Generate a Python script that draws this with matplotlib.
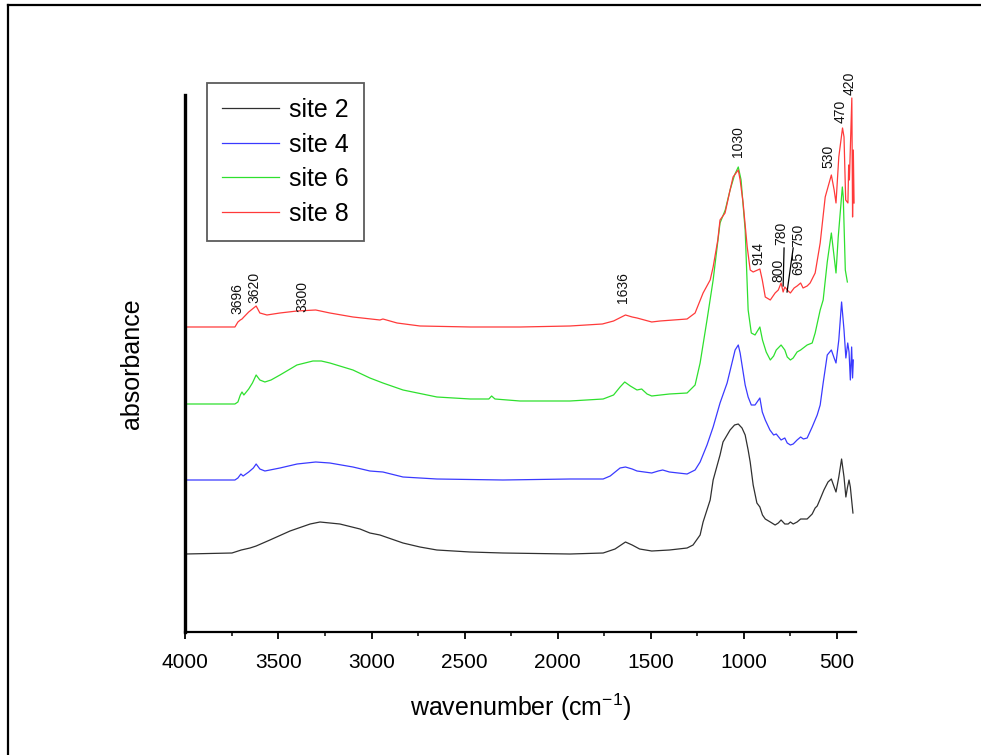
import matplotlib
matplotlib.use("Agg")
import matplotlib.pyplot as plt
from matplotlib.lines import Line2D
from matplotlib.ticker import MultipleLocator

plt.rcParams['font.family'] = ['Liberation Sans', 'DejaVu Sans']

# ---- spectra (wavenumber in cm-1, stacked absorbance in a.u.) ----
wn_site2 = [4000, 3750, 3700, 3653, 3620, 3546, 3438, 3330, 3277, 3170, 3062, 3009, 2955, 2831,
            2740, 2649, 2470, 2294, 1934, 1756, 1692, 1636, 1600, 1560, 1495, 1400, 1305, 1273,
            1235, 1219, 1181, 1165, 1128, 1112, 1074, 1050, 1030, 1010, 993, 977, 966, 950, 930,
            914, 900, 885, 858, 832, 815, 800, 780, 762, 750, 735, 714, 695, 660, 633, 617, 606,
            590, 570, 548, 530, 515, 505, 490, 475, 462, 452, 443, 435, 428, 420, 414]
ab_site2 = [0.78, 0.79, 0.82, 0.84, 0.86, 0.92, 1.01, 1.08, 1.10, 1.08, 1.03, 0.99, 0.97, 0.89,
            0.85, 0.82, 0.80, 0.79, 0.78, 0.79, 0.83, 0.90, 0.87, 0.83, 0.81, 0.82, 0.84, 0.87,
            0.97, 1.10, 1.32, 1.52, 1.77, 1.90, 2.02, 2.07, 2.08, 2.04, 1.97, 1.82, 1.70, 1.47, 1.29,
            1.25, 1.17, 1.13, 1.10, 1.07, 1.09, 1.12, 1.08, 1.08, 1.10, 1.08, 1.10, 1.13, 1.13, 1.18,
            1.24, 1.26, 1.33, 1.42, 1.50, 1.53, 1.45, 1.40, 1.55, 1.73, 1.55, 1.35, 1.45, 1.52, 1.45,
            1.30, 1.19]

wn_site4 = [4000, 3734, 3718, 3702, 3690, 3660, 3635, 3620, 3600, 3573, 3492, 3400, 3300, 3224,
            3100, 3009, 2939, 2831, 2649, 2294, 1934, 1756, 1718, 1665, 1636, 1600, 1574, 1495,
            1460, 1436, 1400, 1305, 1262, 1235, 1198, 1165, 1128, 1090, 1060, 1047, 1030, 1020,
            1004, 993, 977, 960, 940, 914, 901, 885, 860, 840, 826, 800, 780, 767, 750, 735, 714,
            695, 680, 660, 633, 606, 590, 574, 552, 530, 515, 505, 490, 475, 462, 452, 442, 435,
            428, 421, 416, 412]
ab_site4 = [1.52, 1.52, 1.54, 1.58, 1.56, 1.60, 1.64, 1.68, 1.63, 1.61, 1.64, 1.68, 1.70, 1.69,
            1.65, 1.61, 1.60, 1.55, 1.53, 1.52, 1.53, 1.53, 1.56, 1.64, 1.65, 1.63, 1.61, 1.59,
            1.61, 1.62, 1.60, 1.58, 1.62, 1.70, 1.87, 2.05, 2.29, 2.49, 2.72, 2.82, 2.87, 2.79,
            2.60, 2.47, 2.35, 2.27, 2.27, 2.34, 2.20, 2.12, 2.02, 1.97, 1.98, 1.92, 1.94, 1.89,
            1.87, 1.88, 1.92, 1.95, 1.93, 1.94, 2.05, 2.17, 2.27, 2.49, 2.77, 2.82, 2.74, 2.69,
            2.92, 3.30, 3.02, 2.74, 2.89, 2.80, 2.52, 2.85, 2.54, 2.72]

wn_site6 = [4000, 3734, 3718, 3705, 3696, 3686, 3660, 3640, 3620, 3600, 3573, 3540, 3492, 3401,
            3315, 3270, 3224, 3100, 3009, 2939, 2831, 2649, 2470, 2370, 2355, 2337, 2203, 1934,
            1756, 1700, 1665, 1640, 1610, 1574, 1549, 1520, 1495, 1400, 1305, 1262, 1235, 1198,
            1165, 1128, 1100, 1074, 1050, 1030, 1015, 993, 977, 960, 940, 914, 900, 880, 858,
            840, 826, 800, 780, 767, 750, 735, 714, 695, 660, 633, 617, 590, 574, 552, 530, 515,
            505, 493, 471, 466, 455, 444]
ab_site6 = [2.28, 2.28, 2.30, 2.37, 2.40, 2.37, 2.43, 2.49, 2.57, 2.52, 2.50, 2.52, 2.57, 2.67,
            2.71, 2.71, 2.69, 2.62, 2.54, 2.49, 2.42, 2.35, 2.33, 2.33, 2.36, 2.33, 2.31, 2.31,
            2.33, 2.37, 2.45, 2.50, 2.46, 2.42, 2.43, 2.38, 2.36, 2.38, 2.39, 2.47, 2.69, 3.12,
            3.52, 4.09, 4.22, 4.42, 4.57, 4.65, 4.52, 4.02, 3.22, 2.99, 2.97, 3.05, 2.92, 2.80,
            2.72, 2.76, 2.82, 2.87, 2.82, 2.75, 2.72, 2.74, 2.80, 2.82, 2.87, 2.89, 2.99, 3.22,
            3.32, 3.70, 3.99, 3.75, 3.59, 3.95, 4.45, 4.35, 3.62, 3.50]

wn_site8 = [4000, 3734, 3718, 3705, 3696, 3686, 3660, 3640, 3620, 3600, 3562, 3492, 3400, 3300,
            3224, 3100, 2955, 2939, 2863, 2740, 2470, 2200, 1934, 1760, 1700, 1636, 1600, 1574,
            1495, 1450, 1305, 1262, 1219, 1181, 1165, 1140, 1128, 1101, 1074, 1058, 1030, 1020,
            1004, 982, 966, 950, 914, 901, 885, 858, 832, 815, 800, 789, 780, 762, 750, 730, 714,
            695, 682, 660, 644, 617, 590, 563, 530, 515, 505, 490, 470, 462, 453, 441, 437, 433,
            420, 416, 412, 408]
ab_site8 = [3.05, 3.05, 3.10, 3.12, 3.13, 3.15, 3.20, 3.23, 3.26, 3.19, 3.17, 3.19, 3.21, 3.22,
            3.19, 3.15, 3.12, 3.13, 3.09, 3.06, 3.05, 3.05, 3.06, 3.08, 3.11, 3.17, 3.15, 3.14,
            3.10, 3.11, 3.13, 3.19, 3.39, 3.52, 3.65, 3.92, 4.12, 4.19, 4.42, 4.55, 4.62, 4.52,
            4.29, 3.85, 3.62, 3.60, 3.63, 3.52, 3.35, 3.32, 3.39, 3.42, 3.49, 3.40, 3.45, 3.41,
            3.39, 3.44, 3.46, 3.49, 3.44, 3.46, 3.49, 3.59, 3.89, 4.35, 4.57, 4.42, 4.29, 4.75,
            5.04, 4.95, 4.32, 4.29, 4.67, 4.52, 5.34, 4.15, 4.82, 4.29]

series_labels = ["site 2", "site 4", "site 6", "site 8"]
series_colors = ["#303030", "#3a3aff", "#2ee02e", "#ff3a3a"]

# band assignments written above the top spectrum: (text, x position, y of text base)
band_text = ["3696", "3620", "3300", "1636", "1030", "914", "800", "780", "750", "695",
             "530", "470", "420"]
band_x = [3723, 3627, 3369, 1649, 1031, 924, 815, 799, 708, 708, 547, 482, 434]
band_y = [3.18, 3.29, 3.20, 3.29, 4.75, 3.67, 3.50, 3.87, 3.85, 3.57, 4.64, 5.09, 5.37]

xticks = [4000, 3500, 3000, 2500, 2000, 1500, 1000, 500]

fig = plt.figure(figsize=(9.81, 7.55), dpi=100)
ax = fig.add_axes([0.189, 0.1629, 0.6835, 0.7113])

for wn, ab, lab, col in zip([wn_site2, wn_site4, wn_site6, wn_site8],
                            [ab_site2, ab_site4, ab_site6, ab_site8],
                            series_labels, series_colors):
    ax.plot(wn, ab, color=col, lw=0.9, label=lab, solid_joinstyle="round")

for t, x, y in zip(band_text, band_x, band_y):
    ax.text(x, y, t, rotation=90, ha="center", va="bottom", fontsize=10, color="#111111")

# leader lines for the 780 / 750 assignments
ax.plot([784, 789], [3.84, 3.46], color="black", lw=0.9)
ax.plot([735, 768], [3.84, 3.40], color="black", lw=0.9)

ax.set_xlim(4000, 398)
ax.set_ylim(0, 5.37)
ax.set_xticks(xticks)
ax.xaxis.set_minor_locator(MultipleLocator(250))
ax.set_yticks([])
ax.tick_params(axis="x", which="major", direction="out", length=5, width=1.3,
               labelsize=15, pad=10)
ax.tick_params(axis="x", which="minor", direction="out", length=3, width=1.1)

for s in ("top", "right"):
    ax.spines[s].set_visible(False)
ax.spines["left"].set_linewidth(2.4)
ax.spines["bottom"].set_linewidth(1.6)

ax.set_xlabel("wavenumber (cm$^{\\mathregular{-1}}$)", fontsize=18, labelpad=14)
ax.set_ylabel("absorbance", fontsize=18, labelpad=30)

leg = ax.legend(loc="upper left", bbox_to_anchor=(0.211, 0.890), bbox_transform=fig.transFigure,
                fontsize=18, frameon=True, fancybox=False, borderaxespad=0,
                handlelength=2.3, handletextpad=0.4, labelspacing=0.42, borderpad=0.6)
leg.get_frame().set_edgecolor("#333333")
leg.get_frame().set_linewidth(1.3)

# page frame (left and top edges)
fig.add_artist(Line2D([7.5 / 981, 7.5 / 981], [0, 1 - 5 / 755], transform=fig.transFigure,
                      color="black", lw=1.6))
fig.add_artist(Line2D([7.5 / 981, 1], [1 - 5 / 755, 1 - 5 / 755], transform=fig.transFigure,
                      color="black", lw=1.6))

fig.savefig("out.png", dpi=100)
